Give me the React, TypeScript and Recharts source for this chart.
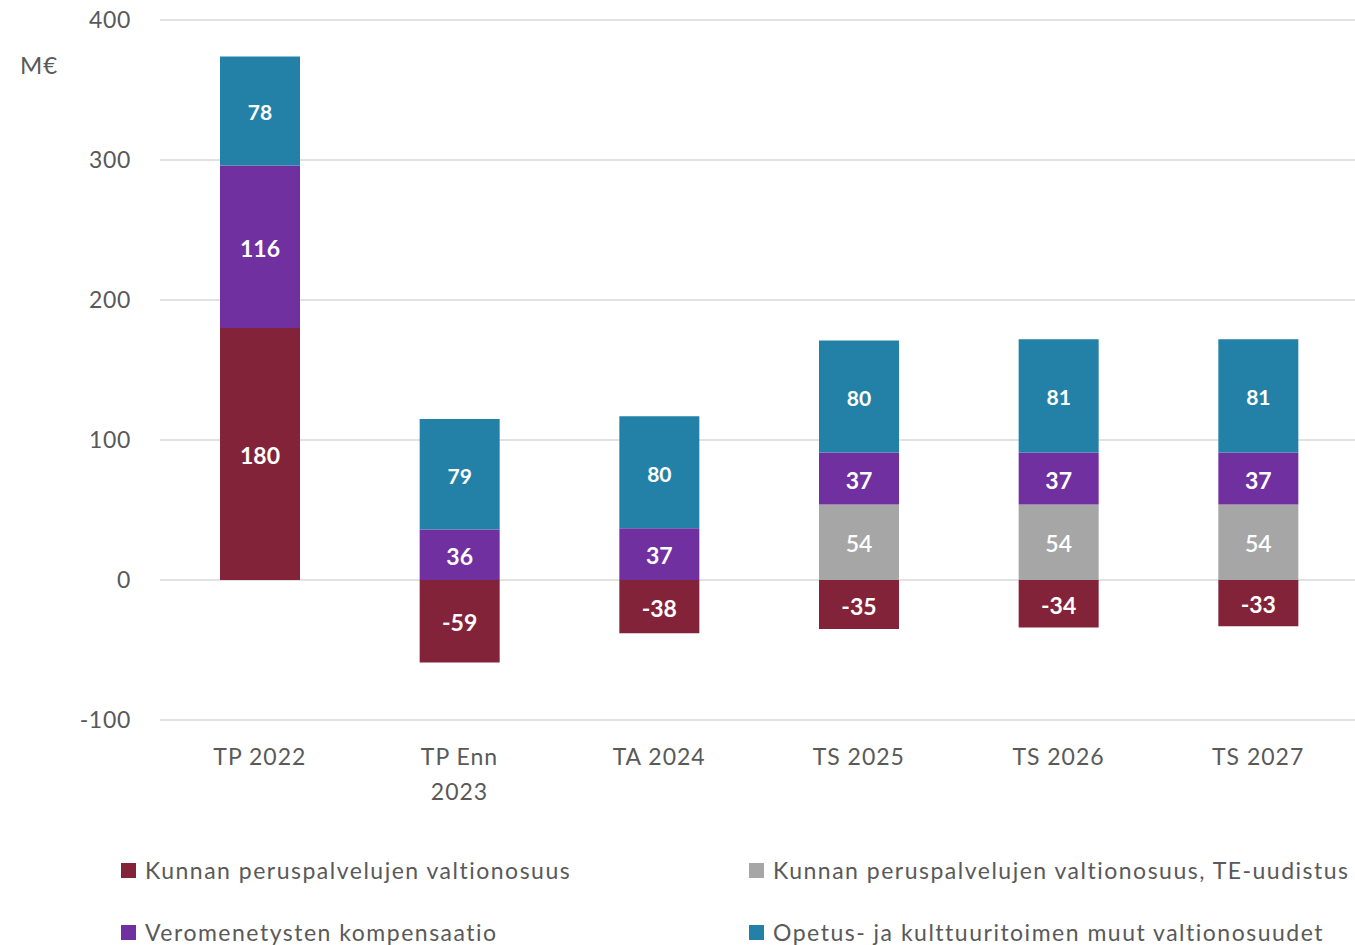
import React from "react";
import { BarChart, Bar, XAxis, YAxis, CartesianGrid, LabelList } from "recharts";

const categories = ["TP 2022", "TP Enn 2023", "TA 2024", "TS 2025", "TS 2026", "TS 2027"];
const kunnan = [180, -59, -38, -35, -34, -33];
const teUudistus = [null, null, null, 54, 54, 54];
const vero = [116, 36, 37, 37, 37, 37];
const opetus = [78, 79, 80, 80, 81, 81];
const yTicks = [-100, 0, 100, 200, 300, 400];

const seriesNames = {
  kunnan: "Kunnan peruspalvelujen valtionosuus",
  te: "Kunnan peruspalvelujen valtionosuus, TE-uudistus",
  vero: "Veromenetysten kompensaatio",
  opetus: "Opetus- ja kulttuuritoimen muut valtionosuudet",
};

const COLORS = {
  kunnan: "#822339",
  te: "#a6a6a6",
  vero: "#7030a0",
  opetus: "#2381a8",
};

const data = categories.map((c, i) => ({
  name: c,
  kunnan: kunnan[i],
  te: teUudistus[i],
  vero: vero[i],
  opetus: opetus[i],
}));

const FONT = "Lato, 'Open Sans', sans-serif";
const TEXT = "#595959";

const fmt = (v: any) => (v === null || v === undefined ? "" : String(v));

const wrap = (s: string): string[] => {
  if (s.length > 8) {
    const idx = s.lastIndexOf(" ");
    return [s.slice(0, idx), s.slice(idx + 1)];
  }
  return [s];
};

const XTick = (props: any) => {
  const { x, y, payload } = props;
  const lines = wrap(payload.value);
  return (
    <g transform={`translate(${x},${y})`}>
      <text textAnchor="middle" fill={TEXT} fontSize={23} fontFamily={FONT} letterSpacing={1}>
        {lines.map((l, i) => (
          <tspan key={i} x={0} y={45 + i * 35}>
            {l}
          </tspan>
        ))}
      </text>
    </g>
  );
};

const legendItems = [
  { key: "kunnan", x: 121, y: 870 },
  { key: "te", x: 749, y: 870 },
  { key: "vero", x: 121, y: 932 },
  { key: "opetus", x: 749, y: 932 },
];

const labelProps = {
  position: "center" as const,
  fill: "#fff",
  fontFamily: FONT,
  formatter: fmt,
  dy: 2,
};

export default function App() {
  return (
    <div
      style={{
        position: "absolute",
        left: 0,
        top: 0,
        width: 1355,
        height: 945,
        overflow: "hidden",
        background: "#fff",
        fontFamily: FONT,
      }}
    >
      <BarChart
        width={1358}
        height={830}
        data={data}
        stackOffset="sign"
        margin={{ top: 20, right: 0, bottom: 0, left: 0 }}
        barSize={80}
      >
        <CartesianGrid vertical={false} stroke="#d9d9d9" strokeWidth={1.5} />
        <XAxis
          dataKey="name"
          axisLine={false}
          tickLine={false}
          tickSize={0}
          tickMargin={0}
          height={110}
          interval={0}
          tick={<XTick />}
        />
        <YAxis
          type="number"
          domain={[-100, 400]}
          ticks={yTicks}
          width={160}
          axisLine={false}
          tickLine={false}
          tickSize={0}
          tickMargin={29}
          tick={{ fill: TEXT, fontSize: 23, fontFamily: FONT, letterSpacing: 0.7 }}
        />
        <Bar dataKey="kunnan" stackId="a" fill={COLORS.kunnan} isAnimationActive={false}>
          <LabelList dataKey="kunnan" {...labelProps} fontSize={23} fontWeight={700} />
        </Bar>
        <Bar dataKey="te" stackId="a" fill={COLORS.te} isAnimationActive={false}>
          <LabelList dataKey="te" {...labelProps} fontSize={23} fontWeight={600} />
        </Bar>
        <Bar dataKey="vero" stackId="a" fill={COLORS.vero} isAnimationActive={false}>
          <LabelList dataKey="vero" {...labelProps} fontSize={23} fontWeight={700} />
        </Bar>
        <Bar dataKey="opetus" stackId="a" fill={COLORS.opetus} isAnimationActive={false}>
          <LabelList dataKey="opetus" {...labelProps} fontSize={21} fontWeight={700} />
        </Bar>
      </BarChart>
      <div
        style={{
          position: "absolute",
          left: 20,
          top: 50,
          fontSize: 24,
          color: TEXT,
          lineHeight: "30px",
          letterSpacing: 1,
        }}
      >
        M€
      </div>
      {legendItems.map((it) => (
        <div
          key={it.key}
          style={{
            position: "absolute",
            left: it.x,
            top: it.y - 15,
            height: 30,
            lineHeight: "30px",
            display: "flex",
            alignItems: "center",
            fontSize: 23,
            color: TEXT,
            whiteSpace: "nowrap",
            letterSpacing: 1.5,
          }}
        >
          <span
            style={{
              display: "inline-block",
              width: 15,
              height: 15,
              background: (COLORS as any)[it.key],
              marginRight: 9,
            }}
          />
          {(seriesNames as any)[it.key]}
        </div>
      ))}
    </div>
  );
}
